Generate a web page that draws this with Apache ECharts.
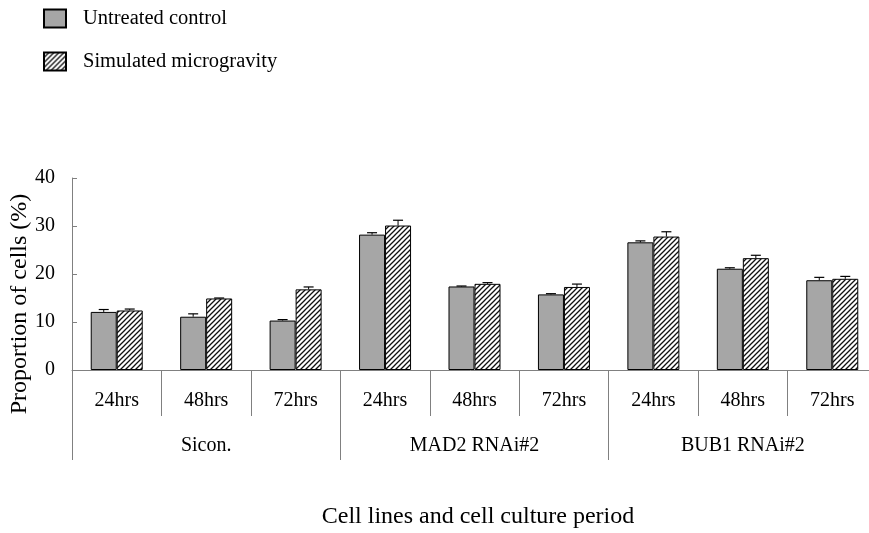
<!DOCTYPE html>
<html>
<head>
<meta charset="utf-8">
<script src="https://cdn.jsdelivr.net/npm/echarts@6/dist/echarts.min.js"></script>
<style>html,body{margin:0;padding:0;background:#fff}#c{width:869px;height:533px}</style>
</head>
<body>
<div id="c"></div>
<script>
var periods = ['24hrs','48hrs','72hrs','24hrs','48hrs','72hrs','24hrs','48hrs','72hrs'];
var groups = ['Sicon.','MAD2 RNAi#2','BUB1 RNAi#2'];
var yTicks = [0, 10, 20, 30, 40];
var controlValues = [12.1, 11.1, 10.3, 28.2, 17.4, 15.75, 26.6, 21.1, 18.7];
var controlErrors = [0.5, 0.6, 0.2, 0.4, 0.1, 0.15, 0.3, 0.2, 0.6];
var microValues = [12.4, 14.9, 16.8, 30.1, 17.95, 17.3, 27.8, 23.3, 19.0];
var microErrors = [0.3, 0.1, 0.5, 1.1, 0.25, 0.6, 1.0, 0.6, 0.5];

var FONT = "'Liberation Serif','Times New Roman',serif";
var BAR_W = 26;

// hatch pattern
var pc = document.createElement('canvas');
pc.width = 5; pc.height = 5;
var g = pc.getContext('2d');
g.fillStyle = '#fff'; g.fillRect(0,0,5,5);
g.strokeStyle = '#111'; g.lineWidth = 1.3;
g.beginPath();
g.moveTo(-1,6); g.lineTo(6,-1);
g.moveTo(-1,1); g.lineTo(1,-1);
g.moveTo(4,6); g.lineTo(6,4);
g.stroke();
var hatch = {image: pc, repeat: 'repeat'};

function errData(vals, errs){
  return vals.map(function(v,i){ return [i, v, errs[i]]; });
}
function errRender(sign){
  return function(params, api){
    var i = api.value(0), v = api.value(1), e = api.value(2);
    var p0 = api.coord([i, v]);
    var p1 = api.coord([i, v + e]);
    var x = p0[0] + sign * BAR_W / 2;
    var cap = 5;
    return {
      type: 'group',
      children: [
        {type:'line', shape:{x1:x, y1:p0[1], x2:x, y2:p1[1]}, style:{stroke:'#000', lineWidth:1}},
        {type:'line', shape:{x1:x-cap, y1:p1[1], x2:x+cap, y2:p1[1]}, style:{stroke:'#000', lineWidth:1.2}}
      ]
    };
  };
}

var chart = echarts.init(document.getElementById('c'));
chart.setOption({
  animation: false,
  backgroundColor: '#fff',
  legend: {
    orient: 'vertical', left: 38, top: 3,
    itemWidth: 22, itemHeight: 18, itemGap: 22,
    textStyle: {fontFamily: FONT, fontSize: 20.5, color: '#000', padding:[0,0,0,12]},
    data: [
      {name:'Untreated control', icon:'rect'},
      {name:'Simulated microgravity', icon:'rect'}
    ]
  },
  grid: {left: 72, width: 805, top: 178, height: 192, outerBoundsMode: 'none', containLabel: false},
  xAxis: [
    {
      type: 'category', data: periods, position: 'bottom',
      axisLine: {show: true, lineStyle: {color: '#808080', width: 1}},
      axisTick: {show: true, interval: 0, length: 46, lineStyle: {color: '#808080'}},
      axisLabel: {interval: 0, margin: 21, fontFamily: FONT, fontSize: 20, color: '#000'}
    },
    {
      type: 'category', data: groups, position: 'bottom',
      axisLine: {show: false},
      axisTick: {show: true, interval: 0, length: 90, lineStyle: {color: '#808080'}},
      axisLabel: {interval: 0, margin: 66, fontFamily: FONT, fontSize: 20, color: '#000'},
      name: 'Cell lines and cell culture period', nameLocation: 'middle', nameGap: 135,
      nameMoveOverlap: false,
      nameTextStyle: {fontFamily: FONT, fontSize: 24, color: '#000', padding:[0,0,0,7]}
    }
  ],
  yAxis: {
    type: 'value', min: yTicks[0], max: yTicks[yTicks.length-1], interval: 10,
    axisLine: {show: true, lineStyle: {color: '#808080'}},
    axisTick: {show: true, inside: true, length: 5, lineStyle: {color: '#808080'}},
    splitLine: {show: false},
    axisLabel: {margin: 17, fontFamily: FONT, fontSize: 20, color: '#000'},
    name: 'Proportion of cells (%)', nameLocation: 'middle', nameGap: 40,
    nameMoveOverlap: false,
    nameTextStyle: {fontFamily: FONT, fontSize: 24, color: '#000', padding:[0,60,0,0]}
  },
  series: [
    {
      name: 'Untreated control', type: 'bar', xAxisIndex: 0, data: controlValues,
      barWidth: BAR_W, barGap: '0%',
      itemStyle: {color: '#a6a6a6', borderColor: '#000', borderWidth: 1}
    },
    {
      name: 'Simulated microgravity', type: 'bar', xAxisIndex: 0, data: microValues,
      barWidth: BAR_W, barGap: '0%',
      itemStyle: {color: hatch, borderColor: '#000', borderWidth: 1}
    },
    {
      type: 'custom', xAxisIndex: 0, data: errData(controlValues, controlErrors),
      encode: {x: 0, y: 1}, renderItem: errRender(-1), z: 5, silent: true
    },
    {
      type: 'custom', xAxisIndex: 0, data: errData(microValues, microErrors),
      encode: {x: 0, y: 1}, renderItem: errRender(1), z: 5, silent: true
    }
  ]
});
</script>
</body>
</html>
